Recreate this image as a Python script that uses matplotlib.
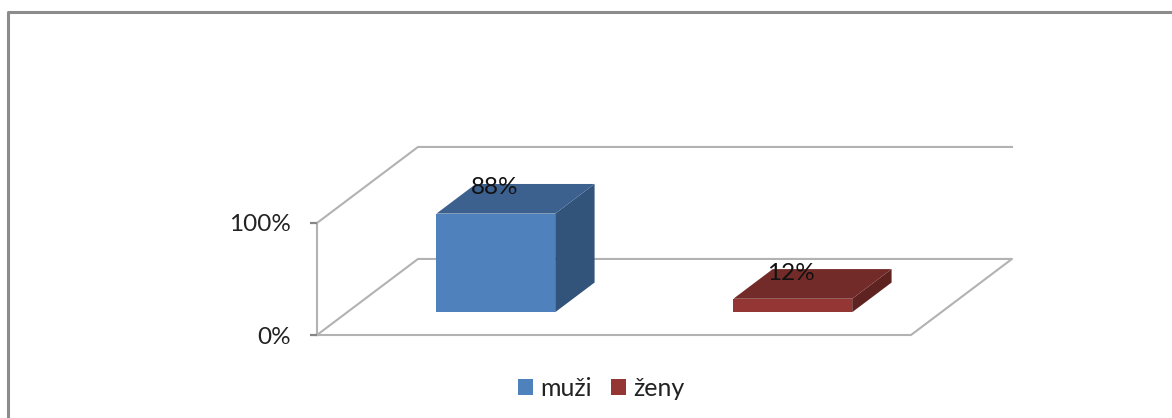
import matplotlib
matplotlib.use('Agg')
import matplotlib.pyplot as plt
from matplotlib.lines import Line2D
from matplotlib.patches import Patch, Polygon

plt.rcParams['font.family'] = ['Lato', 'DejaVu Sans']

# data
categories = ['muži', 'ženy']
values = [88, 12]
y_ticks = [0, 100]
y_labels = ['0%', '100%']

# colours (front, top, side)
front_colors = ['#4f81bd', '#943634']
top_colors = ['#3d618f', '#722b28']
side_colors = ['#32537a', '#5e2320']
GRID = '#b2b2b2'
TICK = '#868686'
FRAME = '#8c8c8c'

# oblique 3d look: how far the back wall is shifted in data units
DEPTH_X = 0.34
DEPTH_Y = 67.9
BAR_WIDTH = 0.4
BAR_D0 = 0.30
BAR_D1 = 0.69


def proj(x, y, d):
    return (x + d * DEPTH_X, y + d * DEPTH_Y)


W, H = 1172, 418
fig = plt.figure(figsize=(W / 100, H / 100), dpi=100, facecolor='white')
ax = fig.add_axes([317 / W, (H - 335) / H, 594 / W, 112 / H])
ax.set_xlim(0, 2)
ax.set_ylim(0, 100)
ax.patch.set_visible(False)
for s in ax.spines.values():
    s.set_visible(False)
ax.set_xticks([])
ax.set_yticks(y_ticks)
ax.set_yticklabels(y_labels, fontsize=17.5, color='#222222')
ax.tick_params(axis='y', length=5, width=1.6, color=TICK, pad=14)

# floor and walls
floor = [proj(0, 0, 0), proj(2, 0, 0), proj(2, 0, 1), proj(0, 0, 1), proj(0, 0, 0)]
ax.plot(*zip(*floor), color=GRID, lw=1.5, clip_on=False, zorder=1)
wall = [proj(0, 0, 0), proj(0, 100, 0), proj(0, 100, 1), proj(2, 100, 1)]
ax.plot(*zip(*wall), color=GRID, lw=1.5, clip_on=False, zorder=1)

# bars
for i, v in enumerate(values):
    x0 = i + 0.5 - BAR_WIDTH / 2
    x1 = i + 0.5 + BAR_WIDTH / 2
    front = [proj(x0, 0, BAR_D0), proj(x1, 0, BAR_D0), proj(x1, v, BAR_D0), proj(x0, v, BAR_D0)]
    top = [proj(x0, v, BAR_D0), proj(x1, v, BAR_D0), proj(x1, v, BAR_D1), proj(x0, v, BAR_D1)]
    side = [proj(x1, 0, BAR_D0), proj(x1, 0, BAR_D1), proj(x1, v, BAR_D1), proj(x1, v, BAR_D0)]
    ax.add_patch(Polygon(side, color=side_colors[i], lw=0, clip_on=False, zorder=3))
    ax.add_patch(Polygon(top, color=top_colors[i], lw=0, clip_on=False, zorder=3))
    ax.add_patch(Polygon(front, color=front_colors[i], lw=0, clip_on=False, zorder=4))
    ax.annotate('%d%%' % v, xy=proj(i + 0.5, v, BAR_D0), xytext=(-1, 18.5),
                textcoords='offset points', ha='center', va='center',
                fontsize=17.5, color='#111111', zorder=5, annotation_clip=False)

# legend
handles = [Patch(facecolor=c, edgecolor='none', label=n) for c, n in zip(front_colors, categories)]
fig.legend(handles=handles, loc='center', bbox_to_anchor=(601 / W, 1 - 388 / H), ncol=2,
           frameon=False, fontsize=18, handlelength=0.6, handleheight=0.6,
           handletextpad=0.3, columnspacing=0.75, labelcolor='#222222')

# outer frame of the picture, only top and left are visible
fig.add_artist(Line2D([8 / W, 8 / W, 1], [0, 1 - 12 / H, 1 - 12 / H], color=FRAME, lw=2.2))

fig.savefig('out.png', dpi=100)
